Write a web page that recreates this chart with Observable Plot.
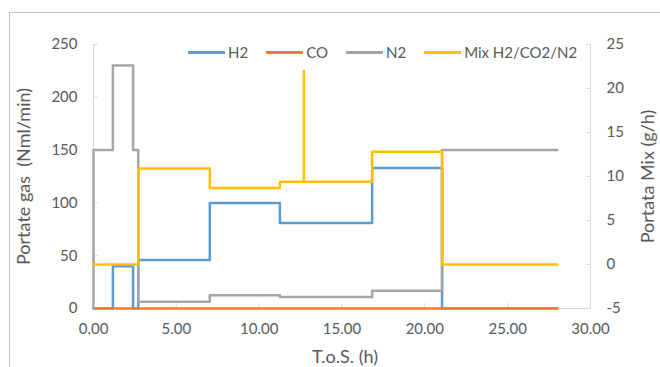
<!DOCTYPE html>
<html>
<head>
<meta charset="utf-8">
<script src="https://cdn.jsdelivr.net/npm/d3@7"></script>
<script src="https://cdn.jsdelivr.net/npm/@observablehq/plot@0.6"></script>
<style>
  body { margin: 0; background: #fff; }
  #wrap { position: relative; width: 660px; height: 367px; overflow: hidden; font-family: Lato, "Open Sans", sans-serif; }
  #border { position: absolute; left: 9px; top: 12px; width: 720px; height: 420px; border: 1px solid #C4C4C4; box-sizing: border-box; }
  #chart { position: absolute; left: 0; top: 0; }
  #legend { position: absolute; top: 43px; left: 188px; display: flex; align-items: center; font-size: 15px; color: #595959; white-space: nowrap; }
  .item { display: flex; align-items: center; margin-right: 18px; }
  .sw { width: 37px; height: 3px; margin-right: 3px; }
</style>
</head>
<body>
<div id="wrap">
  <div id="border"></div>
  <div id="chart"></div>
  <div id="legend"></div>
</div>
<script>
// ---- data ----
const seriesNames = ["H2", "CO", "N2", "Mix H2/CO2/N2"];
const seriesColors = ["#5B9BD5", "#ED7D31", "#A5A5A5", "#FFC000"];

const h2T = [0, 1.17, 1.17, 2.39, 2.39, 2.7, 2.7, 7.02, 7.02, 11.25, 11.25, 16.82, 16.82, 21.04, 21.04, 28];
const h2V = [0, 0, 40, 40, 0, 0, 46, 46, 100, 100, 81, 81, 133, 133, 0, 0];

const coT = [0, 28];
const coV = [0, 0];

const n2T = [0, 0, 1.17, 1.17, 2.39, 2.39, 2.7, 2.7, 7.02, 7.02, 11.25, 11.25, 16.82, 16.82, 21.04, 21.04, 28];
const n2V = [0, 150, 150, 230, 230, 150, 150, 6.5, 6.5, 12.5, 12.5, 11, 11, 16.7, 16.7, 150, 150];

// right axis (g/h)
const mixT = [0, 2.7, 2.7, 7.02, 7.02, 11.25, 11.25, 12.7, 12.7, 12.7, 16.82, 16.82, 21.04, 21.04, 28];
const mixV = [0, 0, 10.9, 10.9, 8.7, 8.7, 9.4, 9.4, 22, 9.4, 9.4, 12.8, 12.8, 0, 0];

const xTicks = [0, 5, 10, 15, 20, 25, 30];
const yTicks = [0, 50, 100, 150, 200, 250];
const y2Ticks = [-5, 0, 5, 10, 15, 20, 25];

const xDomain = [0, 30];
const yDomain = [0, 250];
const y2Domain = [-5, 25];

const xTitle = "T.o.S. (h)";
const yTitle = "Portate gas  (Nml/min)";
const y2Title = "Portata Mix (g/h)";

// ---- build ----
const toLeft = v => (v - y2Domain[0]) * (yDomain[1] - yDomain[0]) / (y2Domain[1] - y2Domain[0]) + yDomain[0];
const toRight = v => (v - yDomain[0]) * (y2Domain[1] - y2Domain[0]) / (yDomain[1] - yDomain[0]) + y2Domain[0];

const pts = (T, V, f = d => d) => T.map((t, i) => ({t, v: f(V[i])}));
const h2 = pts(h2T, h2V), co = pts(coT, coV), n2 = pts(n2T, n2V), mix = pts(mixT, mixV, toLeft);

const axisGray = "#D9D9D9";
const textGray = "#595959";
const lw = 2.5;

const chart = Plot.plot({
  width: 660, height: 367,
  marginLeft: 93, marginRight: 70, marginTop: 44, marginBottom: 59,
  x: {domain: xDomain},
  y: {domain: yDomain},
  style: {fontFamily: "Lato, 'Open Sans', sans-serif", fontSize: "15px", color: textGray, background: "transparent", overflow: "visible"},
  marks: [
    Plot.ruleX([xDomain[0]], {stroke: axisGray, strokeWidth: 1}),
    Plot.ruleX([xDomain[1]], {stroke: axisGray, strokeWidth: 1}),
    Plot.ruleY([yDomain[0]], {stroke: axisGray, strokeWidth: 1}),
    Plot.axisX(xTicks, {anchor: "bottom", tickSize: -5, tickPadding: 20, stroke: axisGray, fill: textGray, tickFormat: d => d.toFixed(2), label: null}),
    Plot.axisY(yTicks, {anchor: "left", tickSize: -5, tickPadding: 21, stroke: axisGray, fill: textGray, label: null}),
    Plot.axisY(y2Ticks.map(toLeft), {anchor: "right", tickSize: -5, tickPadding: 21, stroke: axisGray, fill: textGray, tickFormat: d => String(Math.round(toRight(d))), label: null}),
    Plot.line(h2, {x: "t", y: "v", stroke: seriesColors[0], strokeWidth: lw, curve: "linear"}),
    Plot.line(co, {x: "t", y: "v", stroke: seriesColors[1], strokeWidth: lw, curve: "linear"}),
    Plot.line(n2, {x: "t", y: "v", stroke: seriesColors[2], strokeWidth: lw, curve: "linear"}),
    Plot.line(mix, {x: "t", y: "v", stroke: seriesColors[3], strokeWidth: lw, curve: "linear"}),
    Plot.text([xTitle], {frameAnchor: "bottom", dy: 49, dx: 3, fontSize: 18, fill: textGray, textAnchor: "middle", lineAnchor: "middle"}),
    Plot.text([yTitle], {frameAnchor: "left", dx: -69.5, rotate: -90, fontSize: 18, fill: textGray, textAnchor: "middle", lineAnchor: "middle"}),
    Plot.text([y2Title], {frameAnchor: "right", dx: 58, rotate: -90, fontSize: 18, fill: textGray, textAnchor: "middle", lineAnchor: "middle"})
  ]
});
document.getElementById("chart").appendChild(chart);

const legend = document.getElementById("legend");
seriesNames.forEach((name, i) => {
  const it = document.createElement("div");
  it.className = "item";
  const sw = document.createElement("div");
  sw.className = "sw";
  sw.style.background = seriesColors[i];
  const tx = document.createElement("span");
  tx.textContent = name;
  it.appendChild(sw); it.appendChild(tx);
  legend.appendChild(it);
});
</script>
</body>
</html>
